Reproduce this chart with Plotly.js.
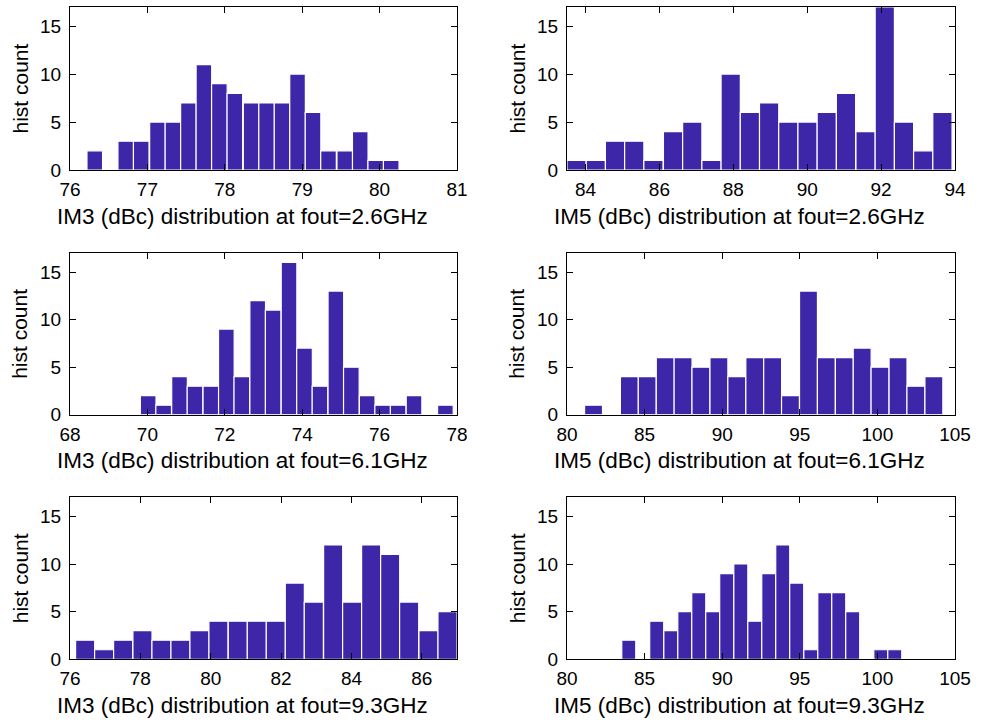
<!DOCTYPE html>
<html>
<head>
<meta charset="utf-8">
<script src="https://cdn.plot.ly/plotly-3.0.1.min.js"></script>
<style>html,body{margin:0;padding:0;background:#fff;}#chart{width:984px;height:720px;}</style>
</head>
<body>
<div id="chart"></div>
<script>
// ---- data (bin centres and counts) ----
const im3_26_centers = [76.32,76.52,76.72,76.92,77.13,77.33,77.53,77.73,77.93,78.13,78.34,78.54,78.74,78.94,79.14,79.34,79.55,79.75,79.95,80.15];
const im3_26_counts  = [2,0,3,3,5,5,7,11,9,8,7,7,7,10,6,2,2,4,1,1];

const im5_26_centers = [83.76,84.28,84.80,85.32,85.84,86.37,86.89,87.41,87.93,88.45,88.97,89.49,90.01,90.53,91.05,91.58,92.10,92.62,93.14,93.66];
const im5_26_counts  = [1,1,3,3,1,4,5,1,10,6,7,5,5,6,8,4,17,5,2,6];

const im3_61_centers = [70.02,70.42,70.83,71.23,71.64,72.04,72.44,72.85,73.25,73.66,74.06,74.46,74.87,75.27,75.68,76.08,76.48,76.89,77.29,77.70];
const im3_61_counts  = [2,1,4,3,3,9,4,12,11,16,7,3,13,5,2,1,1,2,0,1];

const im5_61_centers = [81.71,82.86,84.02,85.17,86.33,87.48,88.63,89.79,90.94,92.10,93.25,94.40,95.56,96.71,97.87,99.02,100.17,101.33,102.48,103.64];
const im5_61_counts  = [1,0,4,4,6,6,5,6,4,6,6,2,13,6,6,7,5,6,3,4];

const im3_93_centers = [76.43,76.97,77.51,78.06,78.60,79.14,79.68,80.22,80.77,81.31,81.85,82.39,82.93,83.48,84.02,84.56,85.10,85.64,86.19,86.73];
const im3_93_counts  = [2,1,2,3,2,2,3,4,4,4,4,8,6,12,6,12,11,6,3,5];

const im5_93_centers = [83.98,84.88,85.78,86.69,87.59,88.49,89.39,90.29,91.20,92.10,93.00,93.90,94.80,95.71,96.61,97.51,98.41,99.31,100.22,101.12];
const im5_93_counts  = [2,0,4,3,5,7,5,9,10,4,9,12,8,1,7,7,5,0,1,1];

// tick labels / axis limits
const yTicks = [0,5,10,15];
const yLimits = [0,17];
const xTicks_im3_26 = [76,77,78,79,80,81];   const xLim_im3_26 = [76,81];
const xTicks_im5_26 = [84,86,88,90,92,94];   const xLim_im5_26 = [83.5,94];
const xTicks_im3_61 = [68,70,72,74,76,78];   const xLim_im3_61 = [68,78];
const xTicks_im5_61 = [80,85,90,95,100,105]; const xLim_im5_61 = [80,105];
const xTicks_im3_93 = [76,78,80,82,84,86];   const xLim_im3_93 = [76,87];
const xTicks_im5_93 = [80,85,90,95,100,105]; const xLim_im5_93 = [80,105];

const xLabels = [
  "IM3 (dBc) distribution at fout=2.6GHz",
  "IM5 (dBc) distribution at fout=2.6GHz",
  "IM3 (dBc) distribution at fout=6.1GHz",
  "IM5 (dBc) distribution at fout=6.1GHz",
  "IM3 (dBc) distribution at fout=9.3GHz",
  "IM5 (dBc) distribution at fout=9.3GHz"
];
const yLabel = "hist count";

// ---- layout geometry (pixels) ----
const W = 984, H = 720;
const cols = [[70,457],[567,955]];
const rows = [[7,170],[253,414.7],[497.3,659.3]];
const FONT = "Liberation Sans, Arial, Helvetica, sans-serif";
const BAR = "rgb(62,38,168)";

const panels = [
  {c:im3_26_centers, n:im3_26_counts, t:xTicks_im3_26, r:xLim_im3_26},
  {c:im5_26_centers, n:im5_26_counts, t:xTicks_im5_26, r:xLim_im5_26},
  {c:im3_61_centers, n:im3_61_counts, t:xTicks_im3_61, r:xLim_im3_61},
  {c:im5_61_centers, n:im5_61_counts, t:xTicks_im5_61, r:xLim_im5_61},
  {c:im3_93_centers, n:im3_93_counts, t:xTicks_im3_93, r:xLim_im3_93},
  {c:im5_93_centers, n:im5_93_counts, t:xTicks_im5_93, r:xLim_im5_93}
];

const data = [];
const layout = {
  width: W, height: H,
  margin: {l:0, r:0, t:0, b:0, pad:0},
  paper_bgcolor: "#fff", plot_bgcolor: "#fff",
  showlegend: false,
  font: {family: FONT, color: "#000"},
  annotations: []
};

panels.forEach((p, i) => {
  const k = i + 1;
  const col = cols[i % 2], row = rows[Math.floor(i / 2)];
  const xs = k === 1 ? "x" : "x" + k, ys = k === 1 ? "y" : "y" + k;
  const binW = (p.c[p.c.length - 1] - p.c[0]) / (p.c.length - 1);
  data.push({
    type: "bar", x: p.c, y: p.n, xaxis: xs, yaxis: ys,
    width: binW,
    marker: {color: BAR, line: {color: "#ffffff", width: 1.2}},
    hoverinfo: "x+y"
  });
  const common = {
    showline: true, linecolor: "#000", linewidth: 1, mirror: "ticks",
    ticks: "inside", ticklen: 6, tickwidth: 1, tickcolor: "#000",
    showgrid: false, zeroline: false,
    tickfont: {family: FONT, size: 19, color: "#000"}
  };
  layout["xaxis" + (k === 1 ? "" : k)] = Object.assign({}, common, {
    domain: [col[0] / W, col[1] / W],
    anchor: ys, range: p.r, tickmode: "array", tickvals: p.t,
    ticklabelstandoff: 2
  });
  layout["yaxis" + (k === 1 ? "" : k)] = Object.assign({}, common, {
    domain: [1 - row[1] / H, 1 - row[0] / H],
    anchor: xs, range: yLimits, tickmode: "array", tickvals: yTicks,
    ticklabelstandoff: 4
  });
  // x label
  layout.annotations.push({
    xref: "paper", yref: "paper",
    x: ((col[0] + col[1]) / 2 - 21.5) / W, y: 1 - (row[1] + 46) / H,
    xanchor: "center", yanchor: "middle", showarrow: false,
    text: xLabels[i], font: {family: FONT, size: 22.5, color: "#000"}
  });
  // y label
  layout.annotations.push({
    xref: "paper", yref: "paper",
    x: (col[0] - 50) / W, y: 1 - ((row[0] + row[1]) / 2) / H,
    xanchor: "center", yanchor: "middle", showarrow: false, textangle: -90,
    text: yLabel, font: {family: FONT, size: 21, color: "#000"}
  });
});

Plotly.newPlot("chart", data, layout, {staticPlot: true, displayModeBar: false});
</script>
</body>
</html>
